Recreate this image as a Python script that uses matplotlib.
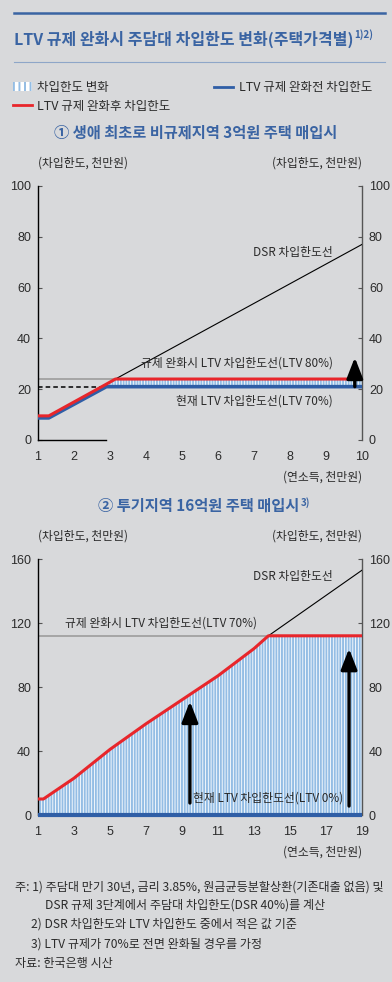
import matplotlib
matplotlib.use("Agg")
import matplotlib.pyplot as plt
from matplotlib.lines import Line2D
from matplotlib.patches import Patch

plt.rcParams['font.family'] = ['Noto Sans CJK KR', 'DejaVu Sans']
plt.rcParams['hatch.linewidth'] = 1.4

BG = '#d8d9db'
BLUE = '#2f5ea6'
RED = '#e8262b'
STRIPE = '#94bde4'
TXT = '#2b2b2b'
TITLE = '#3a64a3'

# ① 3억원 주택 (연소득, 천만원 / 차입한도, 천만원)
inc1 = [1, 1.3, 2.9, 3.15, 10]
before1 = [8.7, 8.7, 21, 21, 21]
after1 = [9.5, 9.5, 22, 24, 24]
dsr1 = [9.5, 9.5, 22, 24, 77]
ltv70_1 = 21
ltv80_1 = 24
xt1 = list(range(1, 11))
yt1 = [0, 20, 40, 60, 80, 100]

# ② 16억원 주택
inc2 = [1, 1.3, 3, 5, 7, 9, 11, 13, 13.8, 19]
before2 = [0, 0, 0, 0, 0, 0, 0, 0, 0, 0]
after2 = [10, 10, 23, 41, 57, 72, 87, 104, 112, 112]
dsr2 = [10, 10, 23, 41, 57, 72, 87, 104, 112, 153]
ltv70_2 = 112
xt2 = list(range(1, 20, 2))
yt2 = [0, 40, 80, 120, 160]

W, H = 392, 982
fx = lambda px: px / W
fy = lambda py: 1 - py / H

fig = plt.figure(figsize=(W / 100, H / 100), dpi=100, facecolor=BG)

# 상단 제목
fig.add_artist(Line2D([fx(14), fx(385)], [fy(13), fy(13)], color=TITLE, lw=1.8))
fig.add_artist(Line2D([fx(14), fx(385)], [fy(62), fy(62)], color='#8ea6c8', lw=0.8))
title = fig.text(fx(14), fy(39), 'LTV 규제 완화시 주담대 차입한도 변화(주택가격별)',
                 color=TITLE, fontsize=11.5, fontweight='bold', va='center', ha='left')

handles = [Patch(facecolor='white', edgecolor=STRIPE, hatch='|||', lw=0),
           Line2D([], [], color=RED, lw=2),
           Line2D([], [], color=BLUE, lw=2)]
labels = ['차입한도 변화', 'LTV 규제 완화후 차입한도', 'LTV 규제 완화전 차입한도']
fig.legend(handles, labels, ncol=2, loc='upper left', bbox_to_anchor=(fx(13), fy(81)),
           frameon=False, fontsize=9, handlelength=1.5, handletextpad=0.45,
           columnspacing=3.5, labelspacing=0.45, labelcolor=TXT,
           borderpad=0, borderaxespad=0)

sub1 = fig.text(fx(196), fy(133), '① 생애 최초로 비규제지역 3억원 주택 매입시',
                color=TITLE, fontsize=11, fontweight='bold', ha='center', va='center')
sub2 = fig.text(fx(199), fy(506), '② 투기지역 16억원 주택 매입시',
                color=TITLE, fontsize=11, fontweight='bold', ha='center', va='center')


def style(ax, xt, yt):
    ax.set_facecolor(BG)
    ax.set_xlim(xt[0], xt[-1])
    ax.set_ylim(yt[0], yt[-1])
    ax.set_xticks(xt)
    ax.set_yticks(yt)
    ax.spines['top'].set_visible(False)
    ax.spines['left'].set_color('black')
    ax.spines['right'].set_color('#555555')
    ax.spines['left'].set_linewidth(1.0)
    ax.spines['right'].set_linewidth(1.0)
    ax.tick_params(axis='y', direction='in', length=3, width=0.8, pad=5,
                   right=True, labelright=True, labelsize=9, labelcolor=TXT, color='#555555')
    ax.tick_params(axis='x', length=0, pad=8, labelsize=9, labelcolor=TXT)
    for lab in ax.get_xticklabels() + ax.get_yticklabels():
        lab.set_fontfamily('Liberation Sans')
    ax.text(0, 1.09, '(차입한도, 천만원)', transform=ax.transAxes, ha='left', va='center',
            fontsize=8.5, color=TXT)
    ax.text(1, 1.09, '(차입한도, 천만원)', transform=ax.transAxes, ha='right', va='center',
            fontsize=8.5, color=TXT)


arrow = dict(arrowstyle='-|>,head_width=0.35,head_length=0.9', color='black',
             lw=2.4, shrinkA=0, shrinkB=0, mutation_scale=14)

# 차트 ①
ax1 = fig.add_axes([fx(38), fy(440), fx(324), 254 / H])
style(ax1, xt1, yt1)
ax1.spines['bottom'].set_bounds(inc1[0], inc1[2])
ax1.spines['bottom'].set_linewidth(1.0)
ax1.axhline(ltv80_1, color='#9c9c9c', lw=1.2, zorder=1)
ax1.hlines(ltv70_1, inc1[0], inc1[2] - 0.1, colors='black', linestyles=(0, (3, 2)), lw=1.1, zorder=1)
ax1.fill_between(inc1, before1, after1, facecolor='white', edgecolor=STRIPE,
                 hatch='||||||', lw=0, zorder=2)
ax1.plot(inc1, dsr1, color='black', lw=0.8, zorder=3)
ax1.plot(inc1, before1, color=BLUE, lw=2.6, zorder=4, solid_capstyle='butt')
ax1.plot(inc1, after1, color=RED, lw=2.2, zorder=5, solid_capstyle='butt')
ax1.annotate('', xy=(9.8, 32.5), xytext=(9.8, ltv70_1), arrowprops=arrow, zorder=6)
ax1.text(9.2, 74, 'DSR 차입한도선', ha='right', va='center', fontsize=8.5, color=TXT)
ax1.text(9.2, 30.3, '규제 완화시 LTV 차입한도선(LTV 80%)', ha='right', va='center', fontsize=8.5, color=TXT)
ax1.text(9.2, 15.4, '현재 LTV 차입한도선(LTV 70%)', ha='right', va='center', fontsize=8.5, color=TXT)
ax1.text(1, -0.145, '(연소득, 천만원)', transform=ax1.transAxes, ha='right', va='center',
         fontsize=8.5, color=TXT)

# 차트 ②
ax2 = fig.add_axes([fx(38), fy(815), fx(324), 256 / H])
style(ax2, xt2, yt2)
ax2.spines['bottom'].set_visible(False)
ax2.axhline(ltv70_2, color='#9c9c9c', lw=1.2, zorder=1)
ax2.fill_between(inc2, before2, after2, facecolor='white', edgecolor=STRIPE,
                 hatch='||||||', lw=0, zorder=2)
ax2.plot(inc2, dsr2, color='black', lw=0.8, zorder=3)
ax2.plot(inc2, before2, color=BLUE, lw=3, zorder=4, clip_on=False, solid_capstyle='butt')
ax2.plot(inc2, after2, color=RED, lw=2.2, zorder=5, solid_capstyle='butt')
ax2.annotate('', xy=(9.44, 71), xytext=(9.44, 7.5), arrowprops=arrow, zorder=6)
ax2.annotate('', xy=(18.28, 104), xytext=(18.28, 5.6), arrowprops=arrow, zorder=6)
ax2.text(17.4, 149, 'DSR 차입한도선', ha='right', va='center', fontsize=8.5, color=TXT)
ax2.text(2.5, 120, '규제 완화시 LTV 차입한도선(LTV 70%)', ha='left', va='center', fontsize=8.5, color=TXT)
ax2.text(9.6, 10.6, '현재 LTV 차입한도선(LTV 0%)', ha='left', va='center', fontsize=8.5, color=TXT, zorder=7)
ax2.text(1, -0.145, '(연소득, 천만원)', transform=ax2.transAxes, ha='right', va='center',
         fontsize=8.5, color=TXT)

# 주석
notes = [
    (15, 887, '주: 1) 주담대 만기 30년, 금리 3.85%, 원금균등분할상환(기존대출 없음) 및'),
    (45, 905, 'DSR 규제 3단계에서 주담대 차입한도(DSR 40%)를 계산'),
    (31, 924, '2) DSR 차입한도와 LTV 차입한도 중에서 적은 값 기준'),
    (31, 944, '3) LTV 규제가 70%로 전면 완화될 경우를 가정'),
    (15, 964, '자료: 한국은행 시산'),
]
for x, y, s in notes:
    fig.text(fx(x), fy(y), s, fontsize=8.7, color=TXT, ha='left', va='center')

# 위첨자
fig.canvas.draw()
r = fig.canvas.get_renderer()
for t, s in [(title, '1)2)'), (sub2, '3)')]:
    bb = t.get_window_extent(r)
    fig.text(bb.x1 / fig.bbox.width + 0.003, bb.y1 / fig.bbox.height + 0.001, s,
             color=TITLE, fontsize=7, fontweight='bold', ha='left', va='top')

fig.savefig('out.png', dpi=100, facecolor=BG)
